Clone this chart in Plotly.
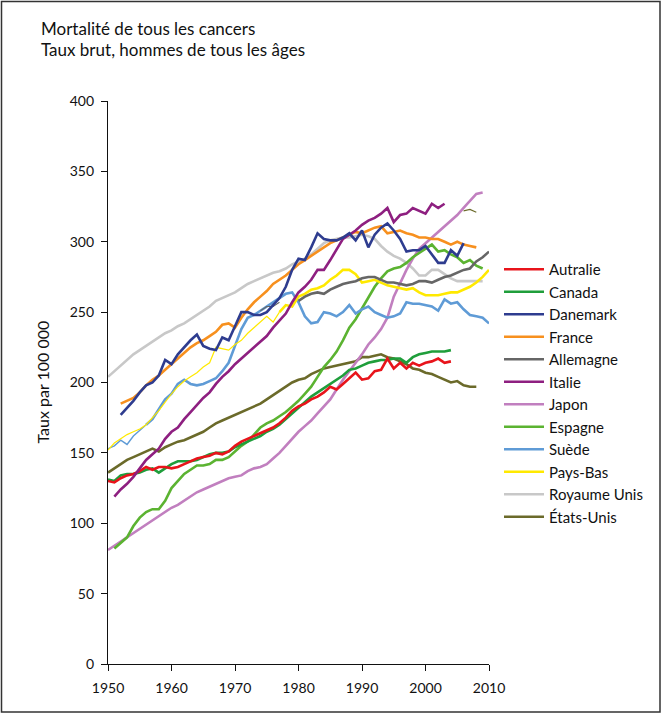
import plotly.graph_objects as go

# ---------------- data ----------------
names = ["Autralie", "Canada", "Danemark", "France", "Allemagne", "Italie",
         "Japon", "Espagne", "Suède", "Pays-Bas", "Royaume Unis", "États-Unis"]

colors = {
    "Autralie": "#E8141B", "Canada": "#1F9E3B", "Danemark": "#2E3C8F",
    "France": "#F7901E", "Allemagne": "#666666", "Italie": "#8E1F80",
    "Japon": "#C17FBF", "Espagne": "#5BB331", "Suède": "#5F9BD6",
    "Pays-Bas": "#FFE900", "Royaume Unis": "#C8C8C8", "États-Unis": "#6B6A2A",
}

start = {"Autralie": 1950, "Canada": 1950, "Danemark": 1952, "France": 1952,
         "Allemagne": 1980, "Italie": 1951, "Japon": 1950, "Espagne": 1951,
         "Suède": 1950, "Pays-Bas": 1950, "Royaume Unis": 1950, "États-Unis": 1950}

autralie = [130, 129, 132, 134, 135, 137, 140, 138, 140, 140,
            139, 140, 142, 144, 146, 147, 148, 150, 149, 151,
            155, 158, 160, 162, 164, 166, 168, 171, 175, 180,
            183, 185, 188, 190, 193, 197, 195, 199, 203, 207,
            202, 203, 208, 209, 217, 210, 214, 210, 214, 212,
            214, 215, 217, 214, 215]
canada = [131, 130, 134, 135, 135, 136, 138, 139, 136, 139,
          142, 144, 144, 144, 145, 147, 149, 150, 150, 151,
          154, 156, 158, 160, 162, 165, 167, 170, 174, 178,
          182, 186, 190, 193, 196, 199, 202, 205, 209, 210,
          212, 214, 215, 216, 216, 217, 217, 214, 218, 220,
          221, 222, 222, 222, 223]
danemark = [177, 182, 187, 193, 198, 200, 205, 216, 213, 220,
            225, 230, 234, 226, 224, 223, 232, 230, 240, 250,
            250, 248, 248, 250, 255, 260, 268, 280, 288, 287,
            296, 306, 302, 301, 301, 303, 306, 301, 308, 296,
            305, 310, 313, 308, 302, 293, 294, 294, 297, 291,
            285, 285, 294, 290, 299]
france = [185, 187, 189, 193, 198, 202, 205, 209, 213, 217,
          221, 225, 228, 230, 233, 236, 241, 242, 239, 246,
          252, 257, 261, 265, 270, 273, 276, 280, 284, 287,
          290, 293, 296, 299, 301, 303, 305, 307, 306, 308,
          310, 311, 306, 307, 308, 306, 305, 303, 303, 302,
          302, 300, 298, 300, 298, 297, 296]
allemagne = [258, 261, 263, 264, 263, 266, 268, 270, 271, 272,
             274, 275, 275, 273, 271, 271, 270, 269, 270, 272,
             272, 271, 273, 275, 276, 278, 280, 281, 286, 289, 293]
allemagne_early_years = [1974, 1975, 1976, 1977]
allemagne_early = [251, 254, 254, 257]
italie = [119, 124, 128, 133, 139, 145, 149, 153, 160, 165,
          168, 174, 179, 184, 189, 193, 199, 204, 208, 213,
          217, 221, 225, 229, 233, 239, 244, 249, 257, 264,
          268, 273, 280, 280, 287, 295, 302, 305, 308, 312,
          315, 317, 320, 324, 314, 319, 320, 324, 322, 320,
          327, 324, 327]
japon = [81, 84, 87, 90, 93, 96, 99, 102, 105, 108,
         111, 113, 116, 119, 122, 124, 126, 128, 130, 132,
         133, 134, 137, 139, 140, 142, 146, 150, 155, 160,
         165, 169, 173, 178, 183, 188, 195, 202, 208, 214,
         220, 227, 232, 238, 246, 261, 271, 280, 288, 295,
         299, 303, 307, 311, 315, 319, 324, 329, 334, 335]
espagne = [82, 86, 90, 98, 104, 108, 110, 110, 116,
           125, 130, 135, 138, 141, 141, 142, 145, 145, 147,
           151, 155, 158, 163, 168, 171, 173, 176, 179, 183,
           187, 192, 197, 204, 211, 216, 222, 230, 239, 245,
           253, 261, 268, 274, 279, 281, 282, 285, 289, 292,
           295, 298, 293, 294, 291, 289, 285, 287, 283, 281]
suede = [153, 155, 159, 156, 162, 166, 170, 174, 181, 188,
         192, 199, 202, 199, 198, 199, 201, 203, 208, 214,
         226, 238, 246, 248, 251, 254, 257, 260, 263, 264,
         257, 247, 242, 243, 250, 249, 247, 250, 255, 249,
         252, 254, 250, 248, 246, 247, 249, 257, 256, 256,
         255, 254, 251, 259, 256, 257, 252, 248, 247, 246, 242]
pays_bas = [152, 157, 160, 163, 165, 167, 170, 175, 180, 186,
            192, 197, 201, 204, 207, 211, 214, 225, 224, 223,
            227, 230, 235, 239, 243, 247, 243, 250, 255, 254,
            261, 263, 266, 267, 269, 273, 276, 280, 280, 277,
            271, 272, 273, 271, 269, 268, 267, 266, 267, 264,
            262, 262, 262, 263, 264, 264, 266, 268, 271, 275, 280]
royaume_unis = [204, 208, 212, 216, 220, 223, 226, 229, 232, 235,
                237, 240, 242, 245, 248, 251, 254, 258, 260, 262,
                264, 267, 270, 272, 274, 276, 278, 279, 281, 284,
                286, 288, 291, 295, 299, 301, 302, 303, 303, 304,
                305, 304, 302, 297, 293, 290, 288, 285, 281, 276,
                276, 280, 280, 277, 274, 272, 272, 272, 272, 272]
etats_unis = [136, 139, 142, 145, 147, 149, 151, 153, 151, 154,
              156, 158, 159, 161, 163, 165, 168, 171, 173, 175,
              177, 179, 181, 183, 185, 188, 191, 194, 197, 200,
              202, 203, 206, 208, 210, 211, 212, 213, 214, 215,
              218, 218, 219, 220, 218, 217, 215, 213, 210, 209,
              207, 206, 204, 202, 200, 201, 198, 197, 197]
extra_olive_years = [2006, 2007, 2008]
extra_olive = [322, 323, 321]

values = {"Autralie": autralie, "Canada": canada, "Danemark": danemark,
          "France": france, "Allemagne": allemagne, "Italie": italie,
          "Japon": japon, "Espagne": espagne, "Suède": suede,
          "Pays-Bas": pays_bas, "Royaume Unis": royaume_unis,
          "États-Unis": etats_unis}

x_ticks = [1950, 1960, 1970, 1980, 1990, 2000, 2010]
y_ticks = [0, 50, 100, 150, 200, 250, 300, 350, 400]

FONT = "Lato, 'Open Sans', sans-serif"
W = 2.6

fig = go.Figure()

draw_order = ["Royaume Unis", "États-Unis", "Japon", "Espagne", "Canada",
              "Autralie", "Suède", "Pays-Bas", "Allemagne", "France",
              "Italie", "Danemark"]

for n in draw_order:
    v = values[n]
    yrs = list(range(start[n], start[n] + len(v)))
    rank = names.index(n) + 1
    if n == "Pays-Bas":
        cut = yrs.index(1977)
        fig.add_trace(go.Scatter(x=yrs[:cut + 1], y=v[:cut + 1], mode="lines",
                                 line=dict(color=colors[n], width=1.2),
                                 showlegend=False, hoverinfo="skip"))
        fig.add_trace(go.Scatter(x=yrs[cut:], y=v[cut:], mode="lines", name=n,
                                 legendgroup=n, legendrank=rank,
                                 line=dict(color=colors[n], width=W)))
        continue
    if n == "Suède":
        cut = yrs.index(1956)
        fig.add_trace(go.Scatter(x=yrs[:cut + 1], y=v[:cut + 1], mode="lines",
                                 line=dict(color=colors[n], width=1.4),
                                 showlegend=False, hoverinfo="skip"))
        fig.add_trace(go.Scatter(x=yrs[cut:], y=v[cut:], mode="lines", name=n,
                                 legendgroup=n, legendrank=rank,
                                 line=dict(color=colors[n], width=W)))
        continue
    if n == "Allemagne":
        fig.add_trace(go.Scatter(x=allemagne_early_years, y=allemagne_early,
                                 mode="lines", showlegend=False, hoverinfo="skip",
                                 line=dict(color=colors[n], width=1.2)))
    if n == "États-Unis":
        fig.add_trace(go.Scatter(x=extra_olive_years, y=extra_olive,
                                 mode="lines", showlegend=False, hoverinfo="skip",
                                 line=dict(color=colors[n], width=1.2)))
    fig.add_trace(go.Scatter(x=yrs, y=v, mode="lines", name=n,
                             legendgroup=n, legendrank=rank,
                             line=dict(color=colors[n], width=W)))

L, R, T, B = 108, 173, 101, 51
PW, PH = 662 - L - R, 715 - T - B

def px_x(px):
    return (px - L) / PW

def px_y(py):
    return (715 - B - py) / PH

fig.update_layout(
    width=662, height=715,
    margin=dict(l=L, r=R, t=T, b=B, autoexpand=False),
    paper_bgcolor="white", plot_bgcolor="white",
    font=dict(family=FONT, size=14, color="#111111"),
    showlegend=True,
    legend=dict(x=px_x(499), y=px_y(253), xanchor="left", yanchor="top",
                traceorder="grouped", tracegroupgap=0,
                font=dict(family=FONT, size=15, color="#111111"),
                bgcolor="rgba(0,0,0,0)", itemwidth=40),
    xaxis=dict(range=[1950, 2010], tickmode="array", tickvals=x_ticks,
               ticktext=[str(t) for t in x_ticks],
               showline=True, linecolor="#111111", linewidth=1.2,
               ticks="outside", ticklen=6, tickcolor="#111111",
               ticklabelstandoff=5,
               showgrid=False, zeroline=False, tickfont=dict(size=14)),
    yaxis=dict(range=[0, 400], tickmode="array", tickvals=y_ticks,
               ticktext=[str(t) for t in y_ticks],
               showline=True, linecolor="#111111", linewidth=1.2,
               ticks="outside", ticklen=6, tickcolor="#111111",
               ticklabelstandoff=4,
               showgrid=False, zeroline=False, tickfont=dict(size=14)),
    annotations=[
        dict(text="Mortalité de tous les cancers",
             xref="paper", yref="paper", x=px_x(39), y=px_y(29),
             xanchor="left", yanchor="middle", showarrow=False,
             font=dict(family=FONT, size=17, color="#111111")),
        dict(text="Taux brut, hommes de tous les âges",
             xref="paper", yref="paper", x=px_x(39), y=px_y(49),
             xanchor="left", yanchor="middle", showarrow=False,
             font=dict(family=FONT, size=17, color="#111111")),
        dict(text="Taux par 100 000", xref="paper", yref="paper",
             x=px_x(42), y=0.5, textangle=-90, showarrow=False,
             xanchor="center", yanchor="middle",
             font=dict(family=FONT, size=16, color="#111111")),
    ],
    shapes=[dict(type="rect", xref="paper", yref="paper",
                 x0=px_x(1.5), x1=px_x(660), y0=px_y(712), y1=px_y(1.5),
                 line=dict(color="#333333", width=1.5), layer="below")],
)

fig.write_html("out.html", config={"displayModeBar": False},
               post_script="document.body.style.margin='0';document.body.style.padding='0';")
